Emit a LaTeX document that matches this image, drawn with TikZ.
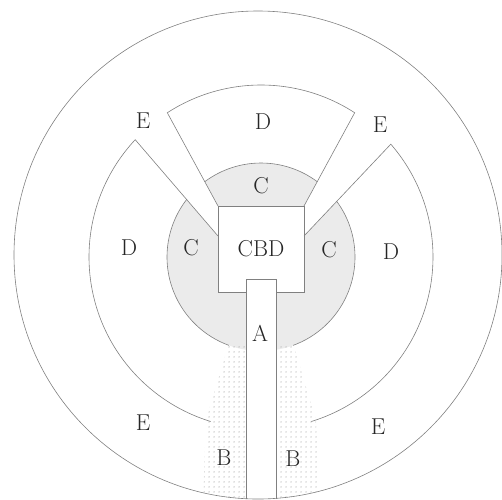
\documentclass[tikz,border=0pt]{standalone}
\usetikzlibrary{patterns.meta,calc}
\tikzdeclarepattern{name=bdots, type=uncolored, bounding box={(0pt,0pt) and (4.5pt,4.5pt)}, tile size={(4.5pt,4.5pt)}, code={\fill (2.25pt,2.25pt) circle (0.75pt);}}
\begin{document}
\begin{tikzpicture}[x=1pt,y=1pt,
 zone/.style={draw=black!50, line width=0.6pt},
 lbl/.style={font=\fontsize{23}{26}\selectfont, text=black!85, inner sep=0pt},
 cshade/.style={fill=black!8},
 bshade/.style={pattern={bdots}, pattern color=black!30}]
\useasboundingbox (0,0) rectangle (502,-499);
\coordinate (O) at (261,-257);
\coordinate (Oo) at (258,-255);
% C shading
\fill[cshade] (O) circle (94);
% B strips
\begin{scope}
\clip (Oo) circle (244);
\fill[bshade] (229,-343) -- (246,-343) -- (246,-502) -- (203,-502) -- (206,-420) -- cycle;
\fill[bshade] (293,-343) -- (276,-343) -- (276,-502) -- (320,-502) -- (316,-420) -- cycle;
\end{scope}
% E gaps
\fill[white] (218,-206) -- (167.3,-112.7) -- (135.2,-139.7) -- (218,-236) -- cycle;
\fill[white] (304,-206) -- (354.7,-112.7) -- (390.8,-144.2) -- (304,-236) -- cycle;
% CBD and road
\fill[white] (218,-206) rectangle (304,-292);
\fill[white] (246,-279) rectangle (276,-502);
% outlines
\draw[zone] (Oo) circle (244);
\draw[zone] (218,-206) -- ($(O)+(123:172)$) arc[start angle=123, end angle=57, radius=172] -- (304,-206);
\draw[zone] (218,-236) -- ($(O)+(137:172)$) arc[start angle=137, end angle=253, radius=172];
\draw[zone] (304,-236) -- ($(O)+(41:172)$) arc[start angle=41, end angle=-73, radius=172];
\draw[zone] ($(O)+(126.7:94)$) arc[start angle=126.7, end angle=53.3, radius=94];
\draw[zone] ($(O)+(142:94)$) arc[start angle=142, end angle=250, radius=94];
\draw[zone] ($(O)+(36:94)$) arc[start angle=36, end angle=-70, radius=94];
\draw[zone] (246,-292) -- (218,-292) -- (218,-206) -- (304,-206) -- (304,-292) -- (276,-292);
\draw[zone] (246,-499) -- (246,-279) -- (276,-279) -- (276,-499);
% labels
\node[lbl] (e1) at (143,-121) {E};
\node[lbl] (d1) at (263,-122) {D};
\node[lbl] (e2) at (380,-125) {E};
\node[lbl] (c1) at (261,-186) {C};
\node[lbl] (d2) at (129,-248) {D};
\node[lbl] (c2) at (191,-248) {C};
\node[lbl] (cbd) at (261,-249) {CBD};
\node[lbl] (c3) at (329,-250) {C};
\node[lbl] (d3) at (391,-252) {D};
\node[lbl] (a) at (260,-333) {A};
\node[lbl] (e3) at (143,-423) {E};
\node[lbl] (e4) at (378,-427) {E};
\node[lbl] (b1) at (224,-458) {B};
\node[lbl] (b2) at (293,-459) {B};
\end{tikzpicture}
\end{document}
